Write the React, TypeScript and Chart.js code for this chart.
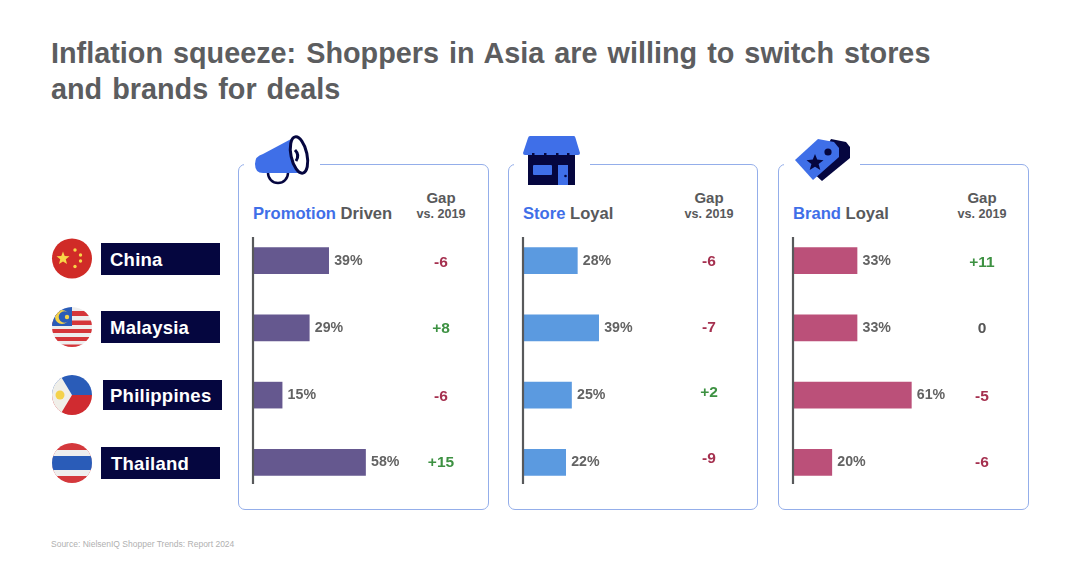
import { useEffect, useRef } from "react"
import { Chart, registerables } from "chart.js"

Chart.register(...registerables)

const FONT = '"Liberation Sans", Arial, sans-serif'

const countries = ["China", "Malaysia", "Philippines", "Thailand"]

const promotionValues = [39, 29, 15, 58]
const promotionGaps = [-6, 8, -6, 15]
const storeValues = [28, 39, 25, 22]
const storeGaps = [-6, -7, 2, -9]
const brandValues = [33, 33, 61, 20]
const brandGaps = [11, 0, -5, -6]

const panels = [
    { left: 238, width: 251, head: "Promotion", tail: "Driven", values: promotionValues, gaps: promotionGaps, color: "#65588f", gapX: 203, nudge: [2, 1, 2, 0] },
    { left: 508, width: 250, head: "Store", tail: "Loyal", values: storeValues, gaps: storeGaps, color: "#5b9ae0", gapX: 201, nudge: [1, 0, -2, -4] },
    { left: 778, width: 251, head: "Brand", tail: "Loyal", values: brandValues, gaps: brandGaps, color: "#bb5079", gapX: 204, nudge: [2, 1, 2, 0] },
]

function gapText(v: number) {
    return v > 0 ? `+${v}` : `${v}`
}

function gapColor(v: number) {
    if (v > 0) return "#3d9142"
    if (v < 0) return "#a5304f"
    return "#555555"
}

function PanelChart({ panel }: { panel: (typeof panels)[number] }) {
    const ref = useRef<HTMLCanvasElement>(null)

    useEffect(() => {
        if (!ref.current) return

        const annotate = {
            id: "annotate",
            afterDatasetsDraw(chart: any) {
                const { ctx, scales } = chart
                const x = scales.x
                const y = scales.y

                // axis line is shorter than the plot area
                ctx.save()
                ctx.strokeStyle = "#58595b"
                ctx.lineWidth = 2.2
                ctx.beginPath()
                ctx.moveTo(x.getPixelForValue(0), 10)
                ctx.lineTo(x.getPixelForValue(0), 257)
                ctx.stroke()

                ctx.textBaseline = "middle"
                panel.values.forEach((v, i) => {
                    const py = y.getPixelForValue(i)
                    ctx.textAlign = "left"
                    ctx.font = `bold 14.2px ${FONT}`
                    ctx.fillStyle = "#636363"
                    ctx.fillText(`${v}%`, x.getPixelForValue(v) + 5.5, py)

                    const g = panel.gaps[i]
                    ctx.textAlign = "center"
                    ctx.font = `bold 15.5px ${FONT}`
                    ctx.fillStyle = gapColor(g)
                    ctx.fillText(gapText(g), panel.gapX, py + panel.nudge[i])
                })
                ctx.restore()
            },
        }

        const chart = new Chart(ref.current, {
            type: "bar",
            data: {
                labels: countries,
                datasets: [
                    {
                        data: panel.values,
                        backgroundColor: panel.color,
                        barThickness: 26,
                    },
                ],
            },
            options: {
                indexAxis: "y",
                responsive: false,
                animation: false,
                layout: { padding: { left: 15, right: panel.width - 15 - 194, top: 0, bottom: 0 } },
                plugins: {
                    legend: { display: false },
                    tooltip: { enabled: false },
                },
                scales: {
                    x: { display: false, min: 0, max: 100 },
                    y: { display: false },
                },
            },
            plugins: [annotate],
        })

        return () => chart.destroy()
    }, [panel])

    return (
        <canvas
            ref={ref}
            width={panel.width}
            height={269}
            style={{ position: "absolute", left: panel.left, top: 227, width: panel.width, height: 269 }}
        />
    )
}

const labelBoxes = [
    { left: 101, top: 243, height: 32, textLeft: 110 },
    { left: 101, top: 311, height: 32, textLeft: 110 },
    { left: 103, top: 380, height: 30, textLeft: 110 },
    { left: 101, top: 447, height: 32, textLeft: 111 },
]

const NAVY = "#05063f"
const BLUE = "#3f6fe8"

function Decor() {
    return (
        <svg width={1080} height={563} style={{ position: "absolute", left: 0, top: 0 }}>
            <defs>
                <clipPath id="my"><circle cx={72} cy={327} r={20} /></clipPath>
                <clipPath id="ph"><circle cx={72} cy={395} r={20} /></clipPath>
                <clipPath id="th"><circle cx={72} cy={463} r={20} /></clipPath>
            </defs>

            {/* breaks in the panel borders behind the icons */}
            <rect x={244} y={160} width={76} height={8} fill="#fff" />
            <rect x={514} y={160} width={76} height={8} fill="#fff" />
            <rect x={784} y={160} width={76} height={8} fill="#fff" />

            {/* China */}
            <circle cx={72} cy={258.5} r={20} fill="#d02b27" />
            <polygon points="63,251.5 64.7,256 69.5,256.3 65.8,259.3 67,264 63,261.4 59,264 60.2,259.3 56.5,256.3 61.3,256" fill="#f8d648" />
            <circle cx={75} cy={250} r={1.7} fill="#f8d648" />
            <circle cx={80.5} cy={255} r={1.7} fill="#f8d648" />
            <circle cx={80.5} cy={261} r={1.7} fill="#f8d648" />
            <circle cx={75} cy={266.5} r={1.7} fill="#f8d648" />

            {/* Malaysia */}
            <g clipPath="url(#my)">
                <rect x={52} y={307} width={40} height={40} fill="#eeeeee" />
                <rect x={52} y={311} width={40} height={5} fill="#d5363a" />
                <rect x={52} y={320.5} width={40} height={4.5} fill="#d5363a" />
                <rect x={52} y={329} width={40} height={4} fill="#d5363a" />
                <rect x={52} y={337} width={40} height={4} fill="#d5363a" />
                <rect x={52} y={344.5} width={40} height={3} fill="#d5363a" />
                <rect x={52} y={307} width={20} height={19} fill="#2a5cb8" />
                <circle cx={62} cy={317} r={7} fill="#f4d24a" />
                <circle cx={64.5} cy={317} r={5.8} fill="#2a5cb8" />
                <circle cx={67} cy={317} r={2.2} fill="#f4d24a" />
            </g>

            {/* Philippines */}
            <g clipPath="url(#ph)">
                <rect x={52} y={375} width={40} height={20} fill="#2a5cb8" />
                <rect x={52} y={395} width={40} height={20} fill="#d02b30" />
                <polygon points="52,375 60,375 72,395 60,415 52,415" fill="#f0efe9" />
                <circle cx={60} cy={395} r={4.5} fill="#f4d24a" />
            </g>

            {/* Thailand */}
            <g clipPath="url(#th)">
                <rect x={52} y={443} width={40} height={40} fill="#d4383c" />
                <rect x={52} y={450} width={40} height={26} fill="#eeeeee" />
                <rect x={52} y={456} width={40} height={14} fill="#2a5cb8" />
            </g>

            {/* megaphone */}
            <path d="M268 173 a10 10 0 0 0 20 0" fill="none" stroke={NAVY} strokeWidth={2.5} />
            <path d="M263 154 L293 138 L298 173 L263 173 Q255 173 255 164 Q255 156 263 154 Z" fill={BLUE} />
            <ellipse cx={299} cy={155} rx={8} ry={18.5} transform="rotate(-12 299 155)" fill="#fff" stroke={NAVY} strokeWidth={3} />
            <path d="M295 150 q5 5 1 11" fill="none" stroke={NAVY} strokeWidth={3} />

            {/* store */}
            <rect x={528} y={152} width={47} height={33} fill={NAVY} />
            <path d="M530 136 L574 136 Q575 136 575.5 138 L580 153 Q580 155 578 155 L525 155 Q523 155 523 153 L528 138 Q528.5 136 530 136 Z" fill={BLUE} />
            {[533, 545, 557, 568].map((x) => (
                <rect key={x} x={x - 1} y={153} width={2.5} height={3} fill={NAVY} />
            ))}
            <rect x={533} y={165} width={19} height={10} rx={1} fill={BLUE} />
            <rect x={558} y={165} width={10} height={20} fill={BLUE} />
            <circle cx={565.5} cy={176} r={1.3} fill={NAVY} />

            {/* tag */}
            <polygon points="831,139 846,142 850,147 850,158 822,181 812,172" fill={NAVY} />
            <polygon points="795,160 818,139 834,142 839,148 839,157 813,180" fill={BLUE} />
            <circle cx={828} cy={152} r={3.6} fill={NAVY} />
            <polygon points="815,154 817.2,159.6 823.5,160.2 818.6,164 820.3,170 815,166.7 809.7,170 811.4,164 806.5,160.2 812.8,159.6" fill={NAVY} />
        </svg>
    )
}

export default function App() {
    return (
        <div style={{ position: "fixed", left: 0, top: 0, width: 1080, height: 563, background: "#fff", fontFamily: FONT, overflow: "hidden" }}>
            <div style={{ position: "absolute", left: 51, top: 35, fontSize: 28.8, lineHeight: "36px", fontWeight: 700, color: "#5c5d5f", whiteSpace: "nowrap", wordSpacing: 2 }}>
                Inflation squeeze: Shoppers in Asia are willing to switch stores
                <br />
                and brands for deals
            </div>

            {panels.map((p) => (
                <div
                    key={p.head}
                    style={{ position: "absolute", left: p.left, top: 163.5, width: p.width, height: 346.5, boxSizing: "border-box", border: "1.5px solid #94aeea", borderRadius: 7 }}
                />
            ))}

            <Decor />

            {panels.map((p) => (
                <PanelChart key={p.head} panel={p} />
            ))}

            {panels.map((p) => (
                <div key={p.head}>
                    <div style={{ position: "absolute", left: p.left + 15, top: 204, fontSize: 16.6, lineHeight: "20px", fontWeight: 700, color: "#58595b", whiteSpace: "nowrap" }}>
                        <span style={{ color: "#3f6fe8" }}>{p.head}</span> {p.tail}
                    </div>
                    <div style={{ position: "absolute", left: p.left + p.gapX - 40, width: 80, top: 189, fontSize: 15, lineHeight: "17px", fontWeight: 700, color: "#58595b", textAlign: "center" }}>
                        Gap
                    </div>
                    <div style={{ position: "absolute", left: p.left + p.gapX - 40, width: 80, top: 206, fontSize: 12.6, lineHeight: "16px", fontWeight: 700, color: "#58595b", textAlign: "center" }}>
                        vs. 2019
                    </div>
                </div>
            ))}

            {countries.map((c, i) => (
                <div
                    key={c}
                    style={{ position: "absolute", left: labelBoxes[i].left, top: labelBoxes[i].top, width: 119, height: labelBoxes[i].height, background: NAVY }}
                >
                    <div style={{ position: "absolute", left: labelBoxes[i].textLeft - labelBoxes[i].left, top: 1, lineHeight: `${labelBoxes[i].height}px`, fontSize: 18.5, fontWeight: 700, color: "#fff", whiteSpace: "nowrap", letterSpacing: 0.25 }}>
                        {c}
                    </div>
                </div>
            ))}

            <div style={{ position: "absolute", left: 51, top: 539, fontSize: 8.5, lineHeight: "11px", color: "#b0b0b0", whiteSpace: "nowrap" }}>
                Source: NielsenIQ  Shopper Trends: Report 2024
            </div>
        </div>
    )
}
